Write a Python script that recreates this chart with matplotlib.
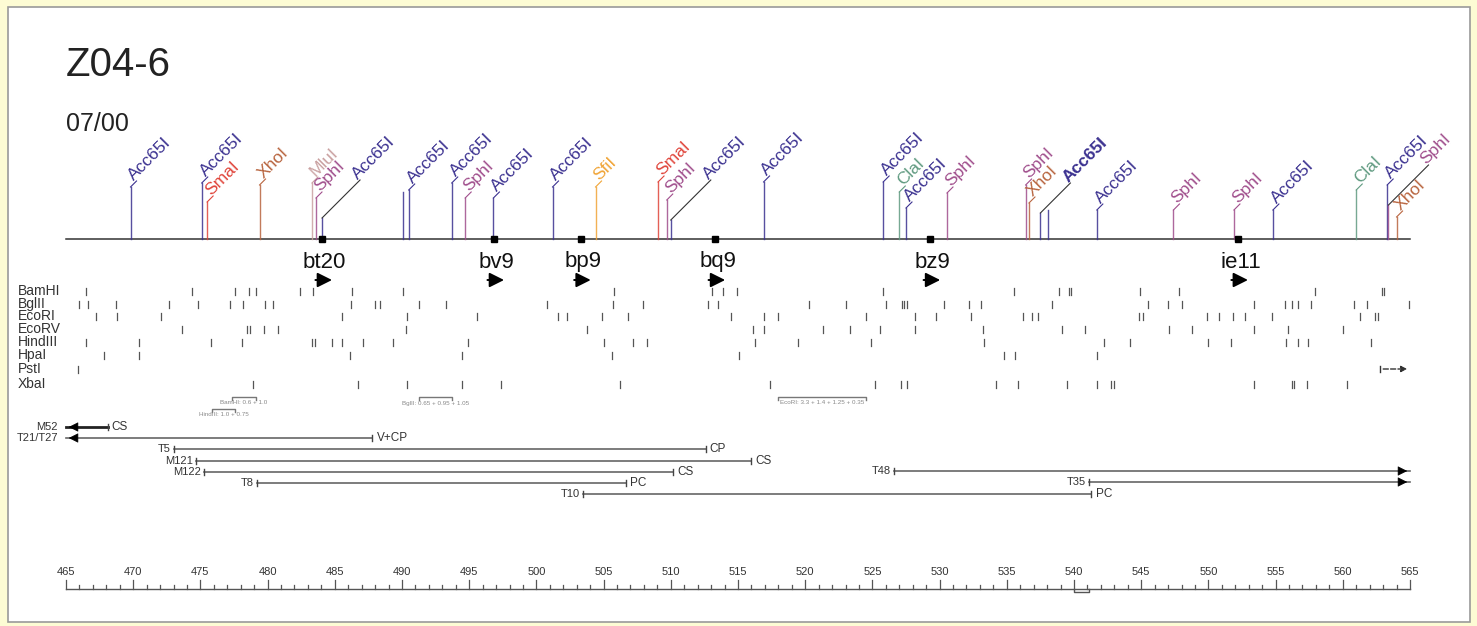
import matplotlib.pyplot as plt
from matplotlib.patches import Rectangle

plt.rcParams["font.family"] = ["Liberation Sans", "DejaVu Sans"]

# restriction sites on the top map (kb)
site_kb = [469.8, 475.1, 475.5, 479.4, 483.3, 483.6, 484.05, 490.1, 490.5, 493.7,
           494.7, 496.8, 501.2, 504.4, 509.05, 509.7, 510.0, 516.9, 525.8, 527.0,
           527.5, 530.55, 536.4, 536.65, 537.5, 538.1, 541.7, 547.4, 551.9, 554.8,
           561.0, 563.3, 563.4, 564.0]
site_enzyme = ["Acc65I", "Acc65I", "SmaI", "XhoI", "MluI", "SphI", "Acc65I", "Acc65I", "Acc65I", "Acc65I",
               "SphI", "Acc65I", "Acc65I", "SfiI", "SmaI", "SphI", "Acc65I", "Acc65I", "Acc65I", "ClaI",
               "Acc65I", "SphI", "SphI", "XhoI", "Acc65I", "Acc65I", "Acc65I", "SphI", "SphI", "Acc65I",
               "ClaI", "Acc65I", "SphI", "XhoI"]

# markers on the map
marker_names = ["bt20", "bv9", "bp9", "bq9", "bz9", "ie11"]
marker_kb = [484.05, 496.85, 503.3, 513.3, 529.3, 552.2]

# restriction rows
row_names = ["BamHI", "BglII", "EcoRI", "EcoRV", "HindIII", "HpaI", "PstI", "XbaI"]
bamhi = [466.5, 474.4, 477.6, 478.6, 479.1, 482.4, 483.4, 486.3, 490.1, 505.8, 513.1, 513.9,
         514.9, 525.8, 535.5, 538.9, 539.6, 539.8, 544.9, 547.8, 557.9, 562.9, 563.1]
bglii = [466.0, 466.6, 468.7, 472.7, 474.8, 477.2, 478.2, 479.8, 480.4, 486.2, 488.0, 488.4,
         491.3, 493.3, 500.8, 505.7, 507.9, 512.8, 513.5, 520.3, 523.0, 526.0, 527.2, 527.35,
         527.6, 530.3, 532.2, 533.1, 538.4, 545.5, 547.0, 548.0, 553.4, 555.7, 556.2, 556.7,
         557.6, 560.8, 561.8, 564.9]
ecori = [467.2, 468.8, 472.1, 485.5, 490.4, 495.6, 501.6, 502.3, 504.9, 506.8, 514.5, 516.9,
         518.0, 524.5, 528.2, 529.7, 532.3, 536.2, 536.9, 537.3, 544.8, 545.1, 549.9, 550.8,
         551.8, 552.7, 554.7, 561.3, 562.4, 562.6]
ecorv = [473.6, 478.5, 478.7, 479.7, 480.8, 490.3, 503.8, 516.1, 516.9, 521.3, 523.3, 525.6,
         528.2, 533.2, 539.1, 540.8, 547.1, 548.8, 553.4, 555.9, 560.0]
hindiii = [466.5, 470.4, 475.8, 478.1, 483.3, 483.5, 484.8, 485.5, 487.1, 489.3, 494.9, 505.0,
           507.2, 508.2, 516.3, 519.5, 524.9, 533.3, 542.2, 544.2, 550.0, 551.7, 555.8, 556.7,
           557.4, 562.1]
hpai = [467.8, 470.4, 486.1, 494.5, 505.6, 515.1, 534.8, 535.6, 541.7]
psti = [465.9]
xbai = [478.9, 486.7, 490.4, 494.5, 497.4, 506.2, 517.4, 525.2, 527.1, 527.6, 534.2, 535.8,
        539.5, 541.7, 542.75, 543.0, 553.4, 556.2, 556.4, 557.3, 560.3]
rows = [bamhi, bglii, ecori, ecorv, hindiii, hpai, psti, xbai]

# fragment notes
note_text = ["BamHI: 0.6 + 1.0", "HindIII: 1.0 + 0.75", "BglII: 0.65 + 0.95 + 1.05",
             "EcoRI: 3.3 + 1.4 + 1.25 + 0.35"]
note_from = [477.35, 475.9, 491.3, 518.0]
note_to = [479.1, 477.6, 493.7, 524.5]

# clones
clone_names = ["M52", "T21/T27", "T5", "M121", "M122", "T8", "T10", "T48", "T35"]
clone_start = [465.0, 465.0, 473.0, 474.7, 475.3, 479.2, 503.5, 526.6, 541.1]
clone_end = [468.1, 487.8, 512.6, 516.0, 510.2, 506.7, 541.3, 565.0, 565.0]
clone_tag = ["CS", "V+CP", "CP", "CS", "CS", "PC", "PC", "", ""]
clone_open_left = [True, True, False, False, False, False, False, False, False]
clone_open_right = [False, False, False, False, False, False, False, True, True]

colors = {"Acc65I": "#3b3190", "SphI": "#a04e8c", "SmaI": "#e0443a", "XhoI": "#b8643e",
          "MluI": "#c9a0a0", "SfiI": "#f0a436", "ClaI": "#5f9a80"}

# layout (pixel rows, y down)
site_top = [187, 183, 202, 185, 183, 198, 218, 192, 190, 183, 198, 198, 187, 187, 182, 200,
            220, 182, 182, 192, 208, 193, 185, 203, 213, 210, 210, 210, 210, 210, 190, 185,
            205, 217]
site_lead = [6, 6, 6, 6, 6, 6, 38, 0, 6, 6, 6, 6, 6, 6, 6, 6, 40, 6, 6, 6, 6, 6, 6, 6, 30, 0,
             6, 6, 6, 6, 6, 6, 40, 6]
row_y = [291, 304, 316, 329, 342, 355, 369, 384]
clone_y = [427, 438, 449, 461, 472, 483, 494, 471, 482]
px = 13.44  # pixels per kb
MAP_Y = 239

fig = plt.figure(figsize=(14.77, 6.26), dpi=100, facecolor="#fdfcd4")
fig.patches.append(Rectangle((8 / 1477, 4 / 626), 1462 / 1477, 615 / 626, transform=fig.transFigure,
                             facecolor="white", edgecolor="#9a9a9a", lw=1.2, zorder=-10))
ax = fig.add_axes([0, 0, 1, 1])
ax.set_xlim(465 - 66 / px, 465 + (1477 - 66) / px)
ax.set_ylim(626, 0)
ax.axis("off")

ax.text(465, 65, "Z04-6", fontsize=29, va="center", ha="left", color="#222")
ax.text(465, 124, "07/00", fontsize=18, va="center", ha="left", color="#222")

# main map line
ax.plot([465, 565], [MAP_Y, MAP_Y], color="#333", lw=1.1)
for kb, enz, top, lead in zip(site_kb, site_enzyme, site_top, site_lead):
    c = colors[enz]
    ax.plot([kb, kb], [MAP_Y, top], color=c, lw=1.0, alpha=0.85)
    if lead == 0:
        continue
    x1, y1 = kb + lead / px, top - lead
    ax.plot([kb, x1], [top, y1], color="#333" if lead > 20 else c, lw=0.8)
    bold = "bold" if kb == 537.5 else "normal"
    ax.text(x1, y1 + 2, enz, rotation=45, rotation_mode="anchor", ha="left", va="bottom",
            fontsize=12.5, color=c, fontweight=bold)

for name, kb in zip(marker_names, marker_kb):
    ax.plot(kb, MAP_Y, marker="s", color="black", markersize=5)
    ax.text(kb + 0.2, 262, name, fontsize=16, ha="center", va="center", color="#111")
    ax.annotate("", xy=(kb + 0.95, 280), xytext=(kb - 0.7, 280),
                arrowprops=dict(arrowstyle="-|>", color="black", lw=1.4, mutation_scale=22))

# restriction rows
for name, y, sites in zip(row_names, row_y, rows):
    ax.text(465 - 48 / px, y, name, fontsize=10, ha="left", va="center", color="#333")
    for kb in sites:
        ax.plot([kb, kb], [y - 3.5, y + 3.5], color="#555", lw=0.9)
ax.plot([562.8, 562.8], [366, 372], color="#333", lw=1.0)
ax.annotate("", xy=(565, 369), xytext=(562.8, 369),
            arrowprops=dict(arrowstyle="-|>", color="#333", lw=1.0, ls="--", mutation_scale=9))

# fragment notes
for i, (t, a, b) in enumerate(zip(note_text, note_from, note_to)):
    y = 409 if i == 1 else 397
    ax.plot([a, a, b, b], [y + 2.5, y, y, y + 2.5], color="#777", lw=1.0)
    ax.text((a + b) / 2, y + 6, t, fontsize=4.5, ha="center", va="center", color="#888")

# clones
for i, name in enumerate(clone_names):
    y = clone_y[i]
    s, e = clone_start[i], clone_end[i]
    lw = 2.0 if name == "M52" else 1.2
    lc = "#222" if name == "M52" else "#666"
    ax.plot([s, e], [y, y], color=lc, lw=lw)
    if clone_open_left[i]:
        ax.annotate("", xy=(s, y), xytext=(s + 0.8, y),
                    arrowprops=dict(arrowstyle="-|>", color="black", lw=0.5, mutation_scale=15))
    else:
        ax.plot([s, s], [y - 3, y + 3], color="#444", lw=1.0)
    if clone_open_right[i]:
        ax.annotate("", xy=(e, y), xytext=(e - 0.8, y),
                    arrowprops=dict(arrowstyle="-|>", color="black", lw=0.5, mutation_scale=15))
    else:
        ax.plot([e, e], [y - 3, y + 3], color="#444", lw=1.0)
        ax.text(e + 0.3, y, clone_tag[i], fontsize=8.5, ha="left", va="center", color="#333")
    lx = s - (0.6 if clone_open_left[i] else 0.25)
    ax.text(lx, y, name, fontsize=8, ha="right", va="center", color="#333")

# scale bar
SCALE_Y = 589
ax.plot([465, 565], [SCALE_Y, SCALE_Y], color="#555", lw=1.0)
for k in range(465, 566):
    h = 9 if k % 5 == 0 else 4
    ax.plot([k, k], [SCALE_Y, SCALE_Y - h], color="#555", lw=0.9)
    if k % 5 == 0:
        ax.text(k, 572, str(k), fontsize=8, ha="center", va="center", color="#333")
ax.plot([540, 540, 541.1, 541.1], [SCALE_Y, SCALE_Y + 3, SCALE_Y + 3, SCALE_Y], color="#555", lw=1.0)

fig.savefig("out.png", dpi=100, facecolor=fig.get_facecolor())
